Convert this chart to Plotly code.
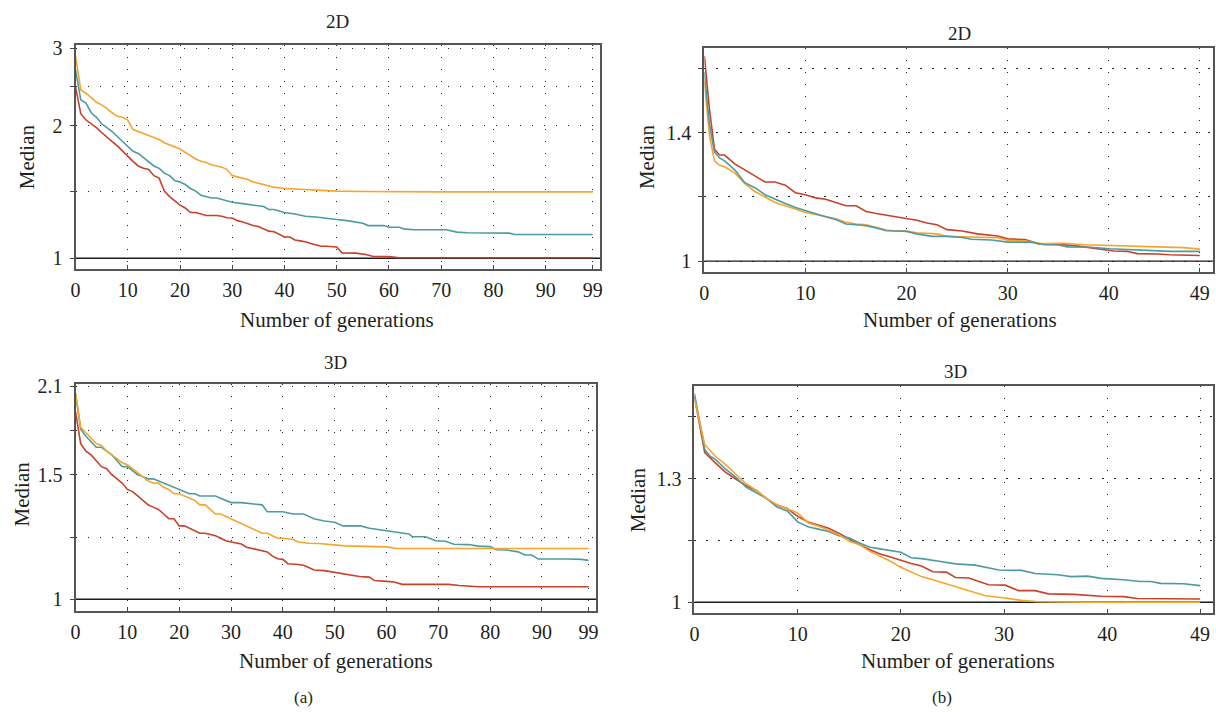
import plotly.graph_objects as go

W, H = 1216, 716

# ---------------- data ----------------
# (a) 2D
A2_OR_X = [0,1,2,3,4,5,6,7,8,9,10,11,12,13,14,15,16,17,18,19,20,21,22,23,24,25,26,27,28,29,30,31,32,33,34,35,36,37,38,40,42,44,47,50,55,60,70,80,99]
A2_OR_Y = [2.88,2.41,2.37,2.31,2.26,2.23,2.19,2.14,2.10,2.09,2.06,1.96,1.94,1.92,1.90,1.88,1.86,1.83,1.81,1.79,1.77,1.74,1.71,1.68,1.66,1.65,1.63,1.62,1.61,1.59,1.54,1.53,1.52,1.51,1.49,1.48,1.47,1.46,1.45,1.44,1.435,1.43,1.425,1.42,1.418,1.416,1.415,1.415,1.415]
A2_TE_X = [0,1,2,3,4,5,6,7,8,9,10,11,12,13,14,15,16,17,18,19,20,21,22,23,24,25,26,27,28,29,30,32,34,35,36,37,38,39,40,42,44,46,48,50,52,55,56,59,60,62,63,65,71,73,75,83,84,99]
A2_TE_Y = [2.68,2.29,2.25,2.14,2.09,2.02,1.98,1.94,1.89,1.84,1.80,1.75,1.73,1.69,1.65,1.62,1.60,1.56,1.54,1.50,1.49,1.47,1.44,1.42,1.39,1.38,1.37,1.37,1.36,1.35,1.34,1.33,1.32,1.31,1.31,1.29,1.29,1.28,1.27,1.26,1.245,1.24,1.23,1.224,1.217,1.20,1.186,1.186,1.176,1.176,1.164,1.16,1.16,1.146,1.142,1.14,1.132,1.132]
A2_RE_X = [0,1,2,3,4,5,6,7,8,9,10,11,12,13,14,15,16,17,18,19,20,21,22,23,24,25,26,27,28,29,30,31,32,33,34,35,36,37,38,39,40,41,42,43,44,45,46,47,48,49,50,51,53.6,55.6,57,60,62,99]
A2_RE_Y = [2.45,2.13,2.06,2.02,1.98,1.93,1.88,1.84,1.80,1.75,1.71,1.66,1.62,1.60,1.59,1.54,1.52,1.42,1.38,1.35,1.32,1.30,1.27,1.27,1.26,1.25,1.25,1.25,1.245,1.236,1.234,1.217,1.209,1.196,1.186,1.18,1.164,1.152,1.148,1.134,1.117,1.117,1.10,1.095,1.09,1.08,1.07,1.064,1.064,1.06,1.06,1.028,1.027,1.019,1.009,1.008,1.002,1.002]

# (a) 3D
A3_OR_X = [0,1,2,3,4,5,6,7,8,9,10,11,12,13,14,15,16,17,18,19,20,21,22,23,24,25,26,27,28,29,30,31,32,33,34,35,36,37,38,39,40,42,43,45,47,48,50,52,60,62,99]
A3_OR_Y = [1.96,1.75,1.72,1.69,1.66,1.65,1.62,1.60,1.58,1.56,1.55,1.53,1.51,1.49,1.47,1.46,1.46,1.44,1.43,1.41,1.41,1.40,1.39,1.38,1.36,1.36,1.34,1.32,1.32,1.31,1.30,1.29,1.28,1.27,1.26,1.25,1.24,1.24,1.23,1.22,1.22,1.215,1.205,1.20,1.199,1.197,1.195,1.19,1.186,1.18,1.18]
A3_TE_X = [0,1,2,3,4,5,6,7,8,9,10,11,12,13,14,15,16,17,18,19,20,21,22,23,24,25,26,27,28,29,30,32,34,35,36,37,38,40,42,44,45,46,48,50,51.6,55,56.7,60,63,64.3,65,67.5,69.5,71.4,73,75.8,77.7,80,81.2,83.2,85.4,86.7,88,89.3,95,97.6,99]
A3_TE_Y = [1.95,1.74,1.70,1.67,1.64,1.64,1.62,1.60,1.57,1.54,1.54,1.52,1.50,1.49,1.48,1.48,1.47,1.46,1.45,1.44,1.43,1.42,1.41,1.41,1.40,1.40,1.40,1.40,1.39,1.38,1.37,1.37,1.365,1.36,1.36,1.33,1.33,1.33,1.32,1.32,1.31,1.30,1.29,1.285,1.27,1.27,1.26,1.25,1.24,1.237,1.226,1.226,1.21,1.208,1.196,1.195,1.189,1.187,1.175,1.174,1.167,1.155,1.155,1.14,1.14,1.139,1.135]
A3_RE_X = [0,1,2,3,4,5,6,7,8,9,10,11,12,13,14,15,16,17,18,19,20,21,22,23,24,25,26,27,28,29,30,31,32,33,34,35,36,37,38,39,40,41,43,44,45,46,48,50,51,52.9,54.8,56.7,57.7,60,61.5,63,72,74,77.7,99]
A3_RE_Y = [1.84,1.66,1.62,1.60,1.57,1.54,1.53,1.50,1.48,1.46,1.43,1.42,1.40,1.38,1.36,1.35,1.34,1.32,1.30,1.30,1.27,1.27,1.26,1.25,1.24,1.24,1.235,1.23,1.22,1.21,1.205,1.20,1.197,1.185,1.18,1.176,1.173,1.167,1.151,1.141,1.139,1.123,1.12,1.117,1.109,1.10,1.098,1.092,1.09,1.083,1.077,1.075,1.063,1.06,1.058,1.05,1.05,1.046,1.042,1.042]

# (b) 2D
B2_RE_X = [0,0.5,1,1.5,2,3,4,5,6,7,8,9,10,11,12,13,14,15,16,17,18,19,20,21,22,23,24,25.5,27,29,30,31.7,33,35,37,39,40.5,41.8,42.8,44.8,46,49]
B2_RE_Y = [1.71,1.49,1.34,1.32,1.32,1.29,1.27,1.25,1.23,1.23,1.22,1.196,1.19,1.18,1.176,1.166,1.156,1.156,1.139,1.133,1.128,1.124,1.119,1.113,1.105,1.10,1.086,1.082,1.074,1.068,1.06,1.058,1.047,1.045,1.04,1.032,1.027,1.026,1.02,1.019,1.017,1.015]
B2_OR_X = [0,0.5,1,1.5,2,3,4,5,6,7,8,9,10,11,12,13,14,15,16,17,18,19,20,21,23,24,25.5,29,30,31.7,33.3,35.6,37.6,39.6,42,44,47.4,49]
B2_OR_Y = [1.60,1.39,1.30,1.285,1.28,1.26,1.225,1.20,1.183,1.166,1.156,1.146,1.136,1.13,1.123,1.117,1.107,1.102,1.10,1.093,1.085,1.082,1.082,1.077,1.074,1.067,1.066,1.063,1.056,1.055,1.047,1.048,1.044,1.042,1.04,1.038,1.036,1.032]
B2_TE_X = [0,0.5,1,1.5,2,3,4,5,6,7,8,9,10,11,12,13,14,15,16,17,18,19,20,21,22.5,24.2,25.5,26.4,28.4,30,32.3,33.6,35,35.9,38.2,40.1,44.2,46.1,49]
B2_TE_Y = [1.64,1.43,1.33,1.31,1.30,1.27,1.228,1.212,1.19,1.176,1.163,1.151,1.141,1.131,1.123,1.115,1.102,1.10,1.097,1.091,1.083,1.082,1.081,1.074,1.067,1.067,1.064,1.059,1.057,1.051,1.051,1.044,1.043,1.038,1.037,1.033,1.029,1.026,1.026]

# (b) 3D
B3_RE_X = [0,1,2,3,4,5,6,7,8,9,10,11,12,13,14,15,16,17,18,19,20,21,22,23.1,24.4,25.3,26.6,28.5,30.1,31.4,33,34.3,36.8,39.4,41.6,42.9,49]
B3_RE_Y = [1.547,1.374,1.345,1.318,1.299,1.281,1.268,1.246,1.229,1.22,1.20,1.186,1.178,1.17,1.158,1.143,1.13,1.118,1.108,1.101,1.093,1.086,1.08,1.067,1.066,1.054,1.053,1.038,1.037,1.025,1.025,1.018,1.017,1.013,1.012,1.008,1.007]
B3_OR_X = [0,1,2,3,4,5,6,7,8,9,10,11,12,13,14,15,16,17,18,19,20,21,22,23.1,24.7,26.3,28.2,30.1,31.7,33.3,37.8,49]
B3_OR_Y = [1.54,1.398,1.364,1.34,1.313,1.286,1.268,1.246,1.23,1.22,1.209,1.184,1.176,1.166,1.154,1.138,1.13,1.114,1.103,1.091,1.077,1.067,1.056,1.049,1.038,1.028,1.014,1.009,1.004,1.001,1.0,1.0]
B3_TE_X = [0,1,1.5,2,3,4,5,6,7,8,9,10,11,12,13,14,15,16,17,18,19,20,21,22,23.7,25.3,27.2,29.5,31.7,33,35.2,36.5,38.1,39.4,41.6,43.2,44.2,45.2,47.4,49]
B3_TE_Y = [1.557,1.383,1.364,1.355,1.327,1.304,1.277,1.261,1.246,1.224,1.214,1.186,1.174,1.168,1.162,1.152,1.146,1.134,1.124,1.12,1.116,1.112,1.099,1.097,1.091,1.085,1.082,1.071,1.07,1.063,1.06,1.056,1.057,1.052,1.049,1.045,1.045,1.041,1.04,1.036]

# tick definitions
A_XTICKS = [0, 10, 20, 30, 40, 50, 60, 70, 80, 90, 99]
B_XTICKS = [0, 10, 20, 30, 40, 49]
A2_YTICKS = [1, 1.4142, 2, 2.4495, 3]
A2_YTEXT = ["1", "", "2", "", "3"]
A3_YTICKS = [1, 1.2247, 1.5, 1.7321, 2.0]
A3_YTEXT = ["1", "", "1.5", "", "2.1"]
B2_YTICKS = [1, 1.1832, 1.4, 1.6565]
B2_YTEXT = ["1", "", "1.4", ""]
B3_YTICKS = [1, 1.1402, 1.3, 1.4822]
B3_YTEXT = ["1", "", "1.3", ""]

ORANGE = "#F6A52B"
TEAL = "#4E9AA2"
RED = "#C8412B"
FONT = "Liberation Serif"
TXT = "#231f20"

fig = go.Figure()


def xdom(l, r):
    return [l / W, min(r / W, 1.0)]


def ydom(t, b):
    return [1 - b / H, 1 - t / H]


panels = [
    dict(idx="", xr=[0, 100.4], yr=[-0.0247, 0.4853], xd=xdom(71, 599), yd=ydom(37, 264),
         xt=A_XTICKS, yt=A2_YTICKS, ytx=A2_YTEXT,
         series=[(A2_RE_X, A2_RE_Y, RED), (A2_TE_X, A2_TE_Y, TEAL), (A2_OR_X, A2_OR_Y, ORANGE)]),
    dict(idx="2", xr=[0, 50.3], yr=[-0.01236, 0.2428], xd=xdom(704, 1216), yd=ydom(40, 267),
         xt=B_XTICKS, yt=B2_YTICKS, ytx=B2_YTEXT,
         series=[(B2_RE_X, B2_RE_Y, RED), (B2_OR_X, B2_OR_Y, ORANGE), (B2_TE_X, B2_TE_Y, TEAL)]),
    dict(idx="3", xr=[0, 100.44], yr=[-0.01677, 0.3047], xd=xdom(71, 595), yd=ydom(380, 610),
         xt=A_XTICKS, yt=A3_YTICKS, ytx=A3_YTEXT,
         series=[(A3_RE_X, A3_RE_Y, RED), (A3_TE_X, A3_TE_Y, TEAL), (A3_OR_X, A3_OR_Y, ORANGE)]),
    dict(idx="4", xr=[0, 50.25], yr=[-0.01003, 0.1996], xd=xdom(694, 1216), yd=ydom(382, 612),
         xt=B_XTICKS, yt=B3_YTICKS, ytx=B3_YTEXT,
         series=[(B3_RE_X, B3_RE_Y, RED), (B3_TE_X, B3_TE_Y, TEAL), (B3_OR_X, B3_OR_Y, ORANGE)]),
]

layout = dict(
    width=W, height=H, margin=dict(l=0, r=0, t=0, b=0, pad=0),
    paper_bgcolor="white", plot_bgcolor="white", showlegend=False,
    font=dict(family=FONT, color=TXT, size=20),
)

for p in panels:
    i = p["idx"]
    xa, ya = "x" + i, "y" + i
    # reference line at y = 1
    fig.add_trace(go.Scatter(x=[p["xr"][0], p["xr"][1]], y=[1, 1], mode="lines",
                             line=dict(color="#1a1a1a", width=1.4), hoverinfo="skip",
                             xaxis=xa, yaxis=ya))
    for sx, sy, c in p["series"]:
        fig.add_trace(go.Scatter(x=sx, y=sy, mode="lines", line=dict(color=c, width=1.6),
                                 xaxis=xa, yaxis=ya))
    layout["xaxis" + i] = dict(
        domain=p["xd"], range=p["xr"], anchor=ya, tickmode="array", tickvals=p["xt"],
        showgrid=True, gridcolor="#222", gridwidth=1.3, griddash="1.3px,10.7px",
        showline=True, mirror=True, linecolor="#555", linewidth=2,
        ticks="inside", ticklen=4, tickcolor="#444", ticklabelstandoff=2,
        tickfont=dict(size=20, family=FONT, color=TXT), zeroline=False,
    )
    layout["yaxis" + i] = dict(
        domain=p["yd"], type="log", range=p["yr"], anchor=xa, tickmode="array",
        tickvals=p["yt"], ticktext=p["ytx"],
        showgrid=True, gridcolor="#222", gridwidth=1.3, griddash="1.3px,10.7px",
        showline=True, mirror=True, linecolor="#555", linewidth=2,
        ticks="outside", ticklen=4, tickcolor="#444", ticklabelstandoff=3,
        tickfont=dict(size=20, family=FONT, color=TXT), zeroline=False,
    )


def ann(text, px, py, size=20, angle=0):
    return dict(text=text, x=px / W, y=1 - py / H, xref="paper", yref="paper",
                showarrow=False, xanchor="center", yanchor="middle", textangle=angle,
                font=dict(family=FONT, size=size, color=TXT))


annotations = [
    ann("2D", 335, 14, 19), ann("2D", 961, 26, 19),
    ann("3D", 333, 358, 19), ann("3D", 957, 368, 19),
    ann("Number of generations", 334, 316, 21), ann("Number of generations", 961, 316, 21),
    ann("Number of generations", 333, 660, 21), ann("Number of generations", 959, 660, 21),
    ann("Median", 22, 150, 21, -90), ann("Median", 647, 150, 21, -90),
    ann("Median", 17, 491, 21, -90), ann("Median", 638, 497, 21, -90),
    ann("(a)", 300, 697, 17), ann("(b)", 943, 697, 17),
]
layout["annotations"] = annotations

fig.update_layout(**layout)
POST = (
    "document.documentElement.style.margin='0px';"
    "document.body.style.margin='0px';document.body.style.padding='0px';"
    "document.body.style.overflow='hidden';"
    "var d=document.querySelector('.plotly-graph-div');"
    "d.style.position='fixed';d.style.left='0px';d.style.top='0px';"
)
fig.write_html("out.html", post_script=POST, config={"displayModeBar": False})
